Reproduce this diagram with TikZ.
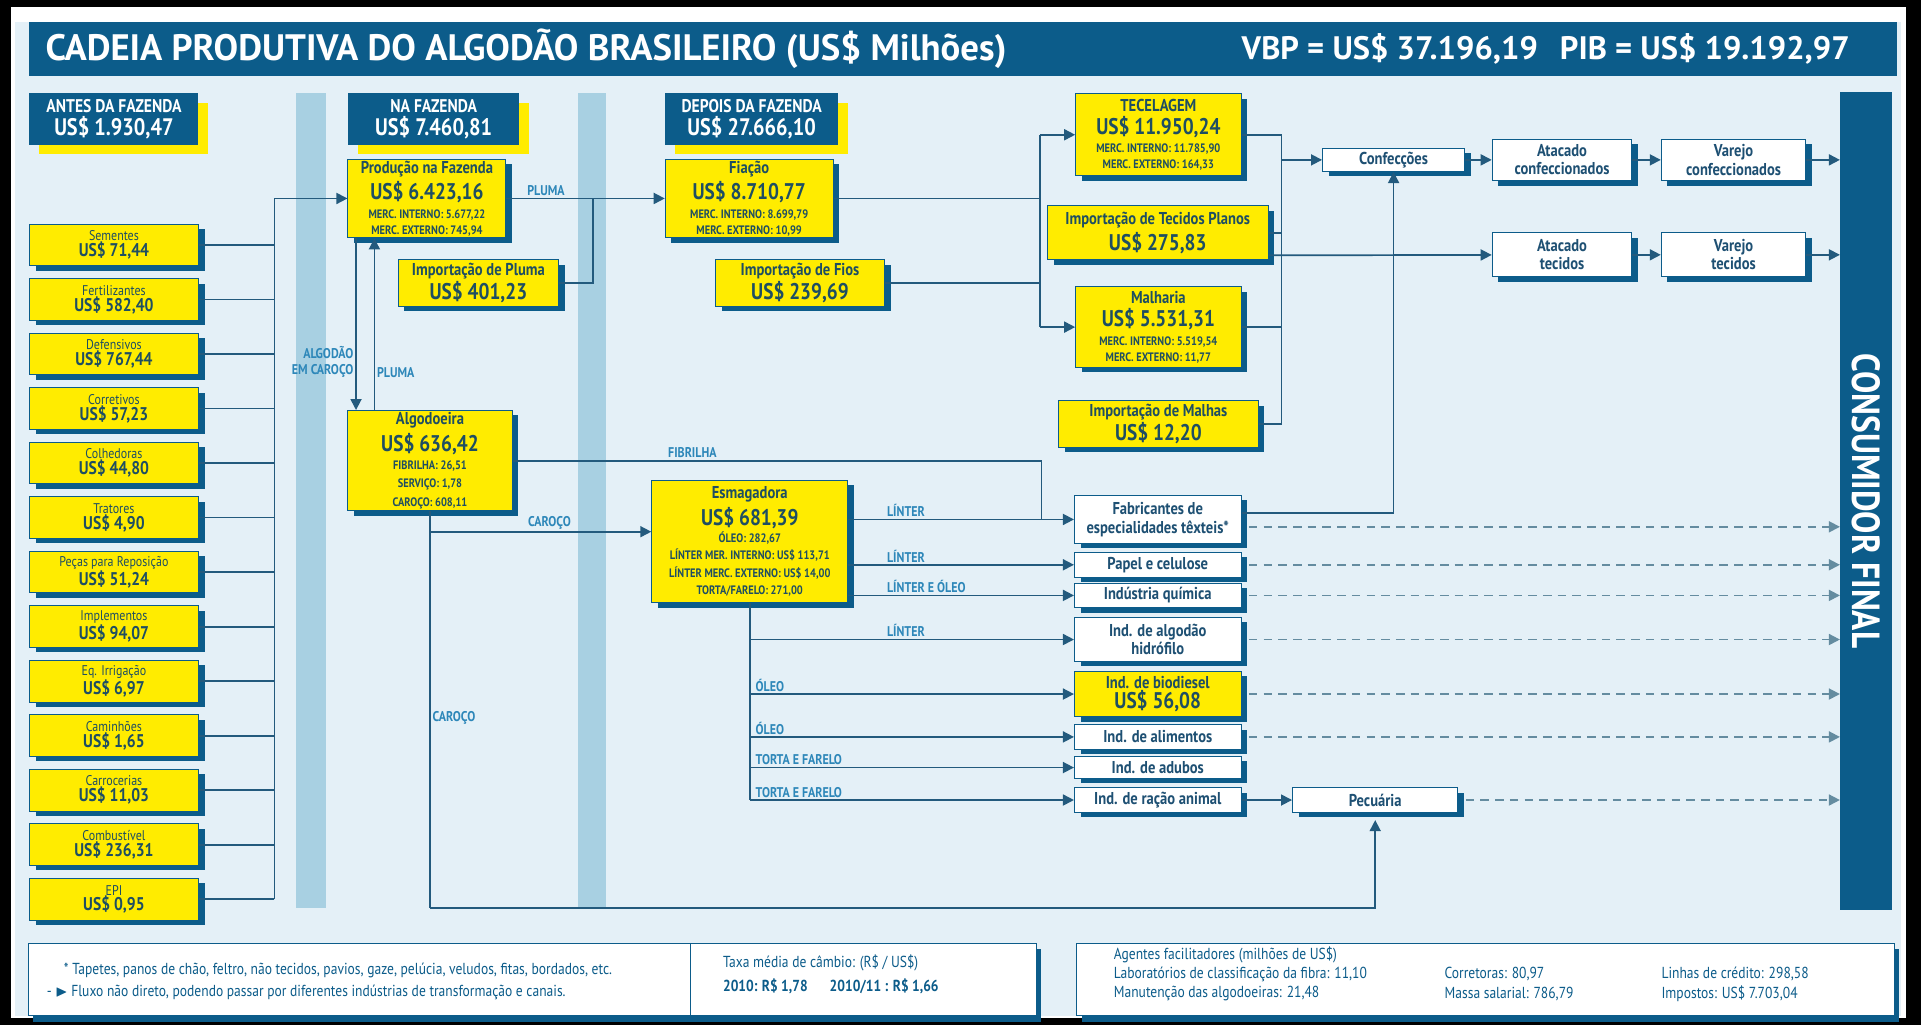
\documentclass[tikz,border=0pt]{standalone}
\usepackage{amssymb}
\usepackage{fontspec}
\setmainfont{PT Sans}
\newfontfamily\cond{PT Sans}[FakeStretch=0.85]
\usetikzlibrary{arrows.meta, shadows}
\definecolor{dblue}{RGB}{12,92,138}
\definecolor{lcol}{RGB}{35,90,125}
\definecolor{lblue}{RGB}{45,135,185}
\definecolor{dcol}{RGB}{100,140,160}
\definecolor{band}{RGB}{168,208,226}
\definecolor{panel}{RGB}{228,240,247}
\definecolor{yel}{RGB}{255,236,0}
\definecolor{ytxt}{RGB}{30,78,98}
\definecolor{wtxt}{RGB}{30,80,115}
\newcommand\szTT{\bfseries\fontsize{30}{32}\selectfont}
\newcommand\szVB{\bfseries\fontsize{26.5}{28}\selectfont}
\newcommand\szH{\cond\bfseries\fontsize{15}{16}\selectfont}
\newcommand\szHV{\cond\bfseries\fontsize{19.5}{21}\selectfont}
\newcommand\szT{\cond\bfseries\fontsize{14}{15.5}\selectfont}
\newcommand\szV{\cond\bfseries\fontsize{18.5}{20}\selectfont}
\newcommand\szD{\cond\bfseries\fontsize{10}{11}\selectfont}
\newcommand\szIN{\cond\fontsize{11.5}{12.5}\selectfont}
\newcommand\szIV{\cond\bfseries\fontsize{15}{16}\selectfont}
\newcommand\szW{\cond\bfseries\fontsize{14}{15}\selectfont}
\newcommand\szL{\cond\bfseries\fontsize{11.5}{12.5}\selectfont}
\newcommand\szCF{\cond\bfseries\fontsize{32}{34}\selectfont}
\newcommand\szLG{\cond\fontsize{13}{15}\selectfont}
\newcommand\inp[2]{{\szIN #1}\\{\szIV #2}}
\tikzset{
    ybox/.style={draw=dblue, line width=0.8pt, fill=yel, text=ytxt, align=center, inner sep=1.5pt,
        drop shadow={shadow xshift=5pt, shadow yshift=-4pt, fill=dblue, opacity=1}},
    wbox/.style={ybox, fill=white, text=wtxt, font=\szW},
    inbox/.style={ybox, minimum width=138pt, minimum height=34pt},
    hbox/.style={fill=dblue, text=white, align=center, inner sep=1.5pt, minimum height=42pt,
        drop shadow={shadow xshift=8pt, shadow yshift=-8pt, fill=yel, opacity=1}},
    lbl/.style={text=lblue, font=\szL, inner sep=1.5pt},
    ln/.style={draw=lcol, line width=1.4pt},
    arr/.style={ln, -{Triangle[length=9pt, width=9pt]}},
    dsh/.style={arr, draw=dcol, dash pattern=on 7pt off 5pt, shorten <=6pt},
    lgbox/.style={draw=dblue, line width=0.8pt, fill=white,
        drop shadow={shadow xshift=4pt, shadow yshift=-5pt, fill=dblue, opacity=1}},
    lgt/.style={text=dblue, font=\szLG, inner sep=0pt, anchor=west},
    ttl/.style={text=white, font=\szTT, inner sep=0pt}
}

\begin{document}
\begin{tikzpicture}[x=1pt, y=-1pt]
\useasboundingbox (0,0) rectangle (1568,837);
\fill[black] (0,0) rectangle (1568,837);
\fill[white] (9,6) rectangle (1556,831);
\fill[panel] (12,18) rectangle (1552,829);
\fill[dblue] (24,18) rectangle (1548,62);
\node[ttl, anchor=west] (tit) at (37,40) {CADEIA PRODUTIVA DO ALGODÃO BRASILEIRO (US\$ Milhões)};
\node[ttl, font=\szVB, anchor=east] (vbp) at (1510,40) {VBP = US\$ 37.196,19\hspace{18pt}PIB = US\$ 19.192,97};
\fill[band] (242,76) rectangle (266,741);
\fill[band] (472,76) rectangle (495,741);

% headers
\node[hbox, minimum width=138pt] (antes) at (93,97) {{\szH ANTES DA FAZENDA}\\[2pt]{\szHV US\$ 1.930,47}};
\node[hbox, minimum width=140pt] (naf) at (354,97) {{\szH NA FAZENDA}\\[2pt]{\szHV US\$ 7.460,81}};
\node[hbox, minimum width=141pt] (dep) at (613.5,97) {{\szH DEPOIS DA FAZENDA}\\[2pt]{\szHV US\$ 27.666,10}};

% antes da fazenda
\def\rowh{44.5}
\node[inbox] (sem)  at (93,200)          {\inp{Sementes}{US\$ 71,44}};
\node[inbox] (fer)  at (93,200+\rowh)    {\inp{Fertilizantes}{US\$ 582,40}};
\node[inbox] (def)  at (93,200+2*\rowh)  {\inp{Defensivos}{US\$ 767,44}};
\node[inbox] (cor)  at (93,200+3*\rowh)  {\inp{Corretivos}{US\$ 57,23}};
\node[inbox] (col)  at (93,200+4*\rowh)  {\inp{Colhedoras}{US\$ 44,80}};
\node[inbox] (tra)  at (93,200+5*\rowh)  {\inp{Tratores}{US\$ 4,90}};
\node[inbox] (pcs)  at (93,200+6*\rowh)  {\inp{Peças para Reposição}{US\$ 51,24}};
\node[inbox] (imp)  at (93,200+7*\rowh)  {\inp{Implementos}{US\$ 94,07}};
\node[inbox] (irr)  at (93,200+8*\rowh)  {\inp{Eq. Irrigação}{US\$ 6,97}};
\node[inbox] (cam)  at (93,200+9*\rowh)  {\inp{Caminhões}{US\$ 1,65}};
\node[inbox] (car)  at (93,200+10*\rowh) {\inp{Carrocerias}{US\$ 11,03}};
\node[inbox] (comb) at (93,200+11*\rowh) {\inp{Combustível}{US\$ 236,31}};
\node[inbox] (epi)  at (93,200+12*\rowh) {\inp{EPI}{US\$ 0,95}};

% na fazenda
\node[ybox, minimum width=129pt, minimum height=62pt] (prod) at (348.5,162)
    {{\szT Produção na Fazenda}\\[3pt]{\szV US\$ 6.423,16}\\[3pt]{\szD MERC. INTERNO: 5.677,22}\\[1pt]{\szD MERC. EXTERNO: 745,94}};
\node[ybox, minimum width=131pt, minimum height=38pt] (ipl) at (390.5,231)
    {{\szT Importação de Pluma}\\[1pt]{\szV US\$ 401,23}};
\node[ybox, minimum width=134pt, minimum height=80pt] (alg) at (351,376)
    {{\szT Algodoeira}\\[3pt]{\szV US\$ 636,42}\\[3pt]{\szD FIBRILHA: 26,51}\\[3pt]{\szD SERVIÇO: 1,78}\\[3pt]{\szD CAROÇO: 608,11}};

% depois da fazenda
\node[ybox, minimum width=137pt, minimum height=62pt] (fia) at (611.5,162)
    {{\szT Fiação}\\[3pt]{\szV US\$ 8.710,77}\\[3pt]{\szD MERC. INTERNO: 8.699,79}\\[1pt]{\szD MERC. EXTERNO: 10,99}};
\node[ybox, minimum width=138pt, minimum height=38pt] (ifi) at (653,231)
    {{\szT Importação de Fios}\\[1pt]{\szV US\$ 239,69}};
\node[ybox, minimum width=135pt, minimum height=67pt] (tec) at (945.5,110)
    {{\szT TECELAGEM}\\[3pt]{\szV US\$ 11.950,24}\\[3pt]{\szD MERC. INTERNO: 11.785,90}\\[1pt]{\szD MERC. EXTERNO: 164,33}};
\node[ybox, minimum width=180pt, minimum height=44pt] (tpl) at (945,190)
    {{\szT Importação de Tecidos Planos}\\[2pt]{\szV US\$ 275,83}};
\node[ybox, minimum width=135pt, minimum height=66pt] (mal) at (945.5,267)
    {{\szT Malharia}\\[3pt]{\szV US\$ 5.531,31}\\[3pt]{\szD MERC. INTERNO: 5.519,54}\\[1pt]{\szD MERC. EXTERNO: 11,77}};
\node[ybox, minimum width=163pt, minimum height=38pt] (iml) at (945.5,346)
    {{\szT Importação de Malhas}\\[1pt]{\szV US\$ 12,20}};
\node[ybox, minimum width=160pt, minimum height=100pt] (esm) at (612,442)
    {{\szT Esmagadora}\\[3pt]{\szV US\$ 681,39}\\[2pt]{\szD ÓLEO: 282,67}\\[2pt]{\szD LÍNTER MER. INTERNO: US\$ 113,71}\\[2pt]{\szD LÍNTER MERC. EXTERNO: US\$ 14,00}\\[2pt]{\szD TORTA/FARELO: 271,00}};

% industrias
\node[wbox, minimum width=136pt, minimum height=39pt] (fab) at (945,424) {Fabricantes de\\especialidades têxteis*};
\node[wbox, minimum width=136pt, minimum height=20pt] (pap) at (945,461) {Papel e celulose};
\node[wbox, minimum width=136pt, minimum height=20pt] (qui) at (945,486) {Indústria química};
\node[wbox, minimum width=136pt, minimum height=36pt] (hid) at (945,522) {Ind. de algodão\\hidrófilo};
\node[ybox, minimum width=136pt, minimum height=37pt] (bio) at (945,566.5) {{\szT Ind. de biodiesel}\\{\szV US\$ 56,08}};
\node[wbox, minimum width=136pt, minimum height=20pt] (ali) at (945,601.5) {Ind. de alimentos};
\node[wbox, minimum width=136pt, minimum height=18pt] (adu) at (945,626.5) {Ind. de adubos};
\node[wbox, minimum width=136pt, minimum height=20pt] (rac) at (945,653) {Ind. de ração animal};
\node[wbox, minimum width=135pt, minimum height=20pt] (pec) at (1122.5,653) {Pecuária};
\node[wbox, minimum width=116pt, minimum height=19pt] (conf) at (1137.5,130.5) {Confecções};
\node[wbox, minimum width=114pt, minimum height=34pt] (atc) at (1275,130.5) {Atacado\\confeccionados};
\node[wbox, minimum width=118pt, minimum height=34pt] (vjc) at (1415,130.5) {Varejo\\confeccionados};
\node[wbox, minimum width=114pt, minimum height=36pt] (att) at (1275,208) {Atacado\\tecidos};
\node[wbox, minimum width=118pt, minimum height=36pt] (vjt) at (1415,208) {Varejo\\tecidos};
\node[fill=dblue, minimum width=42pt, minimum height=668pt, inner sep=0pt] (cf) at (1523,409) {};
\node[text=white, font=\szCF, rotate=-90] (cft) at (cf) {CONSUMIDOR FINAL};

% junctions
\coordinate (bus) at (224,162);
\coordinate (busb) at (224,734);
\coordinate (jpl) at (484,162);
\coordinate (jfib) at (850,424);
\coordinate (jcar) at (351,434);
\coordinate (cbot) at (351,741);
\coordinate (lbt) at (849,110);
\coordinate (lbb) at (849,267);
\coordinate (rbt) at (1046,110);
\coordinate (rbb) at (1046,346);

% insumos
\draw[ln] (busb) -- (bus);
\path[ln] (sem) edge (sem -| bus) (fer) edge (fer -| bus) (def) edge (def -| bus)
    (cor) edge (cor -| bus) (col) edge (col -| bus) (tra) edge (tra -| bus)
    (pcs) edge (pcs -| bus) (imp) edge (imp -| bus) (irr) edge (irr -| bus)
    (cam) edge (cam -| bus) (car) edge (car -| bus) (comb) edge (comb -| bus)
    (epi) edge (epi -| bus);
\draw[arr] (bus) -- (prod);

% pluma e caroco
\draw[arr] (prod) -- node[lbl, above, pos=0.25] {PLUMA} (fia);
\draw[ln] (ipl) -| (jpl);
\draw[arr] ([xshift=7pt]prod.south west) -- node[lbl, left, align=right, pos=0.72] {ALGODÃO\\EM CAROÇO} ([xshift=7pt]alg.north west);
\draw[arr] ([xshift=22pt]alg.north west) -- node[lbl, right, pos=0.22] {PLUMA} ([xshift=22pt]prod.south west);
\draw[ln] (alg) -| node[lbl, above, pos=0.17] {FIBRILHA} (jfib);
\draw[ln] (alg.south) -- node[lbl, right, pos=0.52] {CAROÇO} (cbot);
\draw[arr, shorten >=6pt] (cbot) -| (pec);
\draw[arr] (jcar) -- node[lbl, above, pos=0.54] {CAROÇO} (esm.west |- jcar);

% esmagadora
\draw[arr] (esm.east |- fab) -- node[lbl, pos=0.16, anchor=south west] {LÍNTER} (fab);
\draw[arr] (esm.east |- pap) -- node[lbl, pos=0.16, anchor=south west] {LÍNTER} (pap);
\draw[arr] (esm.east |- qui) -- node[lbl, pos=0.16, anchor=south west] {LÍNTER E ÓLEO} (qui);
\draw[ln] (esm.south) -- (esm.south |- rac);
\draw[arr] (esm.south |- hid) -- node[lbl, pos=0.415, anchor=south west] {LÍNTER} (hid);
\draw[arr] (esm.south |- bio) -- node[lbl, pos=0.01, anchor=south west] {ÓLEO} (bio);
\draw[arr] (esm.south |- ali) -- node[lbl, pos=0.01, anchor=south west] {ÓLEO} (ali);
\draw[arr] (esm.south |- adu) -- node[lbl, pos=0.01, anchor=south west] {TORTA E FARELO} (adu);
\draw[arr] (esm.south |- rac) -- node[lbl, pos=0.01, anchor=south west] {TORTA E FARELO} (rac);
\draw[arr] (rac) -- (pec);

% textil
\draw[ln] (lbt) -- (lbb);
\draw[ln] (fia) -- (fia -| lbt);
\draw[ln] (ifi) -- (ifi -| lbt);
\draw[arr] (lbt) -- (tec);
\draw[arr] (lbb) -- (mal);
\draw[ln] (rbt) -- (rbb);
\draw[ln] (tec) -- (rbt);
\draw[ln] (tpl) -- (tpl -| rbt);
\draw[ln] (mal) -- (mal -| rbt);
\draw[ln] (iml) -- (rbb);
\draw[arr] (conf -| rbt) -- (conf);
\draw[arr] ([yshift=4pt]tpl.south east) -- (att);
\draw[arr] ([yshift=5pt]fab.east) -| (conf);
\draw[arr] (conf) -- (atc);
\draw[arr] (atc) -- (vjc);
\draw[arr] (vjc) -- (vjc -| cf.west);
\draw[arr] (att) -- (vjt);
\draw[arr] (vjt) -- (vjt -| cf.west);

% fluxo nao direto
\draw[dsh] ([yshift=-6pt]fab.east) -- ([yshift=-6pt]fab.east -| cf.west);
\draw[dsh] (pap) -- (pap -| cf.west);
\draw[dsh] (qui) -- (qui -| cf.west);
\draw[dsh] (hid) -- (hid -| cf.west);
\draw[dsh] (bio) -- (bio -| cf.west);
\draw[dsh] (ali) -- (ali -| cf.west);
\draw[dsh] (pec) -- (pec -| cf.west);

% legenda
\node[lgbox, minimum width=823pt, minimum height=59pt] (lg1) at (434.5,799.5) {};
\node[lgbox, minimum width=667pt, minimum height=59pt] (lg2) at (1212.5,799.5) {};
\draw[draw=dblue, line width=0.8pt] ([xshift=541pt]lg1.north west) -- ([xshift=541pt]lg1.south west);
\node[lgt] (fn1) at (52,792) {* Tapetes, panos de chão, feltro, não tecidos, pavios, gaze, pelúcia, veludos, fitas, bordados, etc.};
\node[lgt] (fn2) at (38,810) {- $\blacktriangleright$ Fluxo não direto, podendo passar por diferentes indústrias de transformação e canais.};
\node[lgt] (tx1) at (590,786) {Taxa média de câmbio: (R\$ / US\$)};
\node[lgt, font=\szLG\bfseries] (tx2) at (590,805) {2010: R\$ 1,78\hspace{18pt}2010/11 : R\$ 1,66};
\node[lgt] (ag1) at (909,779) {Agentes facilitadores (milhões de US\$)};
\node[lgt] (ag2) at (909,795) {Laboratórios de classificação da fibra: 11,10};
\node[lgt] (ag3) at (909,811) {Manutenção das algodoeiras: 21,48};
\node[lgt] (ag4) at (1179,795) {Corretoras: 80,97};
\node[lgt] (ag5) at (1179,811) {Massa salarial: 786,79};
\node[lgt] (ag6) at (1356,795) {Linhas de crédito: 298,58};
\node[lgt] (ag7) at (1356,811) {Impostos: US\$ 7.703,04};
\end{tikzpicture}
\end{document}
